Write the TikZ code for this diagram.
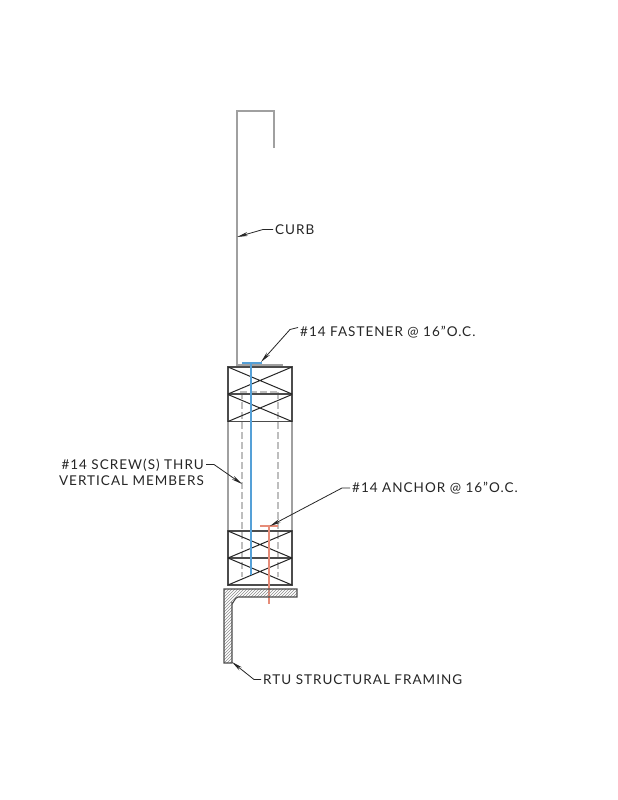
\documentclass[tikz,border=0pt]{standalone}
\usepackage{fontspec}
\setmainfont[LetterSpace=7.5]{Lato}
\usetikzlibrary{arrows.meta,patterns}
\definecolor{curbgray}{RGB}{160,160,160}
\definecolor{dashgray}{RGB}{190,190,190}
\definecolor{screwblue}{RGB}{85,160,215}
\definecolor{anchorred}{RGB}{230,140,120}
\tikzset{
  block/.style={draw=black!70,line width=1.1pt,minimum width=64pt,minimum height=27pt,inner sep=0pt,outer sep=0pt},
  member/.style={draw=curbgray,line width=1.1pt},
  hidden/.style={draw=dashgray,line width=1.1pt,dash pattern=on 7pt off 3pt},
  callout/.style={inner sep=0pt,font=\fontsize{13.5}{15.5}\selectfont,text=black!85},
  leader/.style={draw=black!85,line width=0.8pt,-{Stealth[length=11pt,width=4pt]}},
}
\begin{document}
\begin{tikzpicture}[x=1pt,y=-1pt]
\useasboundingbox[fill=white] (0,0) rectangle (618,800);
% curb
\draw[member] (274,148) -- (274,111) -- (237,111) -- (237,365) -- (283,365);
\draw[member] (228,422) -- (228,531);
\draw[member] (292,422) -- (292,531);
% hidden lines
\draw[hidden] (240,392) -- (280,392);
\draw[hidden] (242,392) -- (242,577);
\draw[hidden] (278,392) -- (278,577);
% blocking
\node[block] (topa) at (260,380.5) {};
\node[block] (topb) at (260,408) {};
\node[block] (bota) at (260,544.5) {};
\node[block] (botb) at (260,571.5) {};
\foreach \b in {topa,topb,bota,botb} {
  \draw[black!85,line width=1pt] (\b.north west) -- (\b.south east) (\b.north east) -- (\b.south west);
}
% screw and anchor
\draw[screwblue,line width=1.1pt] (242,363) -- (262,363) (251,363) -- (251,575);
\draw[anchorred,line width=1.1pt] (260,526) -- (278,526) (269,526) -- (269,604);
% angle
\draw[black!70,line width=1.1pt,pattern=north east lines,pattern color=black!45]
  (224,589) -- (297,589) -- (297,597) -- (238,597) to[out=180,in=-90] (232,603) -- (232,663) -- (224,663) -- cycle;
% labels
\node[callout,anchor=west] (curb) at (275,229.5) {CURB};
\node[callout,anchor=west] (fastener) at (300,332.5) {\#14 FASTENER @ 16"O.C.};
\node[callout,anchor=east,align=right] (screw) at (204,472.5) {\#14 SCREW(S) THRU\\VERTICAL MEMBERS};
\node[callout,anchor=west] (anchorlbl) at (352,488) {\#14 ANCHOR @ 16"O.C.};
\node[callout,anchor=west] (framing) at (263,679.5) {RTU STRUCTURAL FRAMING};
% leaders
\coordinate (curbtip) at (237,237);
\coordinate (fastenertip) at (261,362);
\coordinate (screwtip) at (242,484);
\coordinate (anchortip) at (270,526);
\coordinate (framingtip) at (232,662);
\draw[leader] (curb.west) ++(-2,0) -- ++(-10,0) -- (curbtip);
\draw[leader] (fastener.west) ++(-2,-5) -- ++(-8,2) -- (fastenertip);
\draw[leader] (screw.east) ++(2,-8) -- ++(8,0) -- (screwtip);
\draw[leader] (anchorlbl.west) ++(-2,0) -- ++(-8,0) -- (anchortip);
\draw[leader] (framing.west) ++(-2,0) -- ++(-7,0) -- (framingtip);
\end{tikzpicture}
\end{document}
